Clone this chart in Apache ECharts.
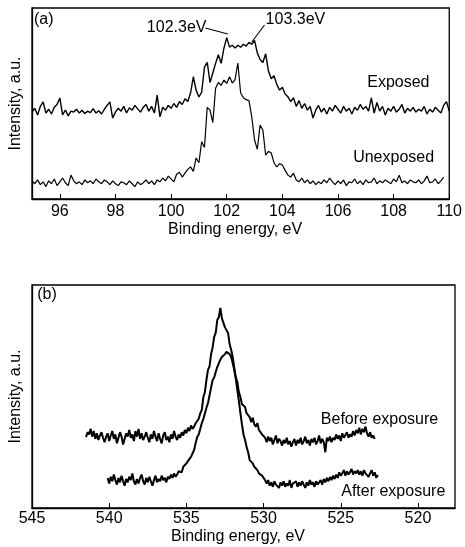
<!DOCTYPE html>
<html>
<head>
<meta charset="utf-8">
<script src="https://cdn.jsdelivr.net/npm/echarts@6.0.0/dist/echarts.min.js"></script>
<style>
  html, body { margin: 0; padding: 0; background: #fff; }
  #chart { width: 465px; height: 547px; }
</style>
</head>
<body>
<div id="chart"></div>
<script>
// ---- panel (a): Si 2p region, 0.1 eV steps from 95.0 eV ----
const startA = 95.0;
const stepA = 0.1;
const exposed = [
    45.5, 47.5, 44.0, 48.5, 50.8, 45.0, 47.0, 44.5, 48.0, 49.5,
    52.9, 44.0, 46.6, 43.5, 46.0, 45.5, 47.0, 45.0, 46.5, 44.8,
    46.0, 45.2, 47.3, 45.0, 46.2, 44.5, 47.0, 49.0, 50.8, 42.4,
    45.5, 47.5, 46.0, 48.5, 45.0, 47.8, 46.5, 49.0, 47.2, 45.5,
    48.0, 49.5, 46.0, 48.5, 45.0, 54.4, 43.0, 48.0, 46.5, 49.0,
    47.5, 50.0, 48.0, 51.0, 49.5, 52.5, 51.0, 55.5, 64.0, 57.0,
    53.4, 56.0, 69.0, 71.5, 61.0, 66.0, 71.0, 75.5, 71.0, 79.0,
    84.5, 79.5, 80.5, 79.0, 80.5, 79.5, 81.0, 80.0, 82.0, 81.0,
    83.0, 76.5, 73.0, 71.5, 76.0, 67.0, 63.0, 64.5, 60.0, 57.0,
    58.5, 55.0, 53.5, 51.0, 53.0, 48.5, 51.5, 47.5, 50.0, 46.5,
    48.5, 42.4, 46.5, 49.0, 45.5, 47.5, 44.5, 48.0, 46.0, 49.0,
    47.0, 45.0, 48.5, 46.0, 47.5, 44.5, 48.0, 46.5, 49.5, 47.0,
    48.5, 46.0, 52.9, 45.0, 50.5, 46.0, 48.5, 44.0, 47.5, 46.0,
    48.5, 45.5, 47.0, 49.5, 45.0, 47.5, 46.0, 48.0, 45.5, 47.0,
    46.0, 48.5, 44.5, 47.0, 45.5, 48.0, 46.5, 45.0, 49.0, 51.0,
    46.0
];
const unexposed = [
    9.5, 8.0, 10.0, 7.5, 9.0, 6.5, 9.5, 8.0, 10.5, 7.0,
    9.0, 11.0, 8.5, 7.0, 12.5, 9.5, 8.0, 9.0, 7.5, 10.0,
    8.5, 9.5, 8.0, 10.5, 9.0, 8.0, 10.0, 9.0, 7.5, 9.5,
    8.0, 7.0, 9.0, 8.5, 7.5, 9.5, 8.0, 6.5, 9.0, 7.5,
    8.5, 10.0, 8.0, 9.5, 7.5, 10.0, 9.0, 11.0, 9.5, 12.0,
    10.5, 9.0, 13.0, 14.0, 11.5, 13.5, 15.5, 16.8, 14.5, 21.5,
    19.0, 30.0, 27.0, 48.0, 46.5, 40.0, 58.0, 61.0, 59.5, 62.3,
    60.5, 64.0, 60.7, 62.5, 71.2, 55.5, 53.0, 52.0, 51.5, 43.0,
    30.9, 26.0, 38.7, 36.1, 23.0, 25.0, 24.1, 19.0, 16.8, 18.5,
    17.8, 15.0, 12.5, 11.5, 13.5, 10.0, 9.0, 11.0, 8.5, 10.0,
    8.0, 9.5, 7.5, 9.0, 8.0, 10.0, 8.5, 11.0, 9.0, 7.5,
    9.5, 8.0, 10.0, 7.0, 9.0, 8.5, 10.5, 8.0, 9.5, 7.5,
    10.0, 8.5, 9.0, 11.0, 8.0, 9.5, 8.5, 10.0, 9.0, 8.0,
    10.5, 9.0, 12.5, 8.5, 9.5, 8.0, 10.0, 9.0, 8.5, 10.0,
    8.0, 9.5, 12.0, 8.5, 9.0, 10.5, 8.0, 9.5, 11.5
];
const ticksA = [96, 98, 100, 102, 104, 106, 108, 110];

// ---- panel (b): O 1s region, -0.1 eV steps ----
const startBefore = 541.5;
const startAfter = 540.1;
const stepB = -0.1;
const before = [
    31.8, 34.0, 33.0, 35.5, 32.0, 34.5, 31.0, 33.5, 30.5, 32.5,
    34.0, 31.5, 29.5, 32.0, 33.5, 30.0, 32.5, 34.5, 31.0, 33.0,
    29.0, 31.5, 34.0, 32.0, 28.5, 31.0, 33.5, 32.0, 35.0, 31.5,
    33.0, 30.0, 34.5, 32.0, 35.5, 31.0, 33.5, 30.5, 32.0, 34.0,
    31.5, 29.5, 33.0, 31.0, 34.5, 32.0, 30.0, 33.5, 31.0, 29.0,
    32.5, 34.0, 30.5, 32.0, 29.5, 33.0, 31.0, 34.5, 32.0, 30.5,
    33.0, 31.5, 34.0, 32.5, 35.0, 33.5, 36.0, 34.5, 37.0, 35.5,
    36.5, 38.0, 37.5, 40.0, 42.5, 44.0, 49.8, 52.0, 57.5, 61.9,
    63.5, 69.0, 72.0, 76.7, 78.5, 84.3, 85.5, 89.7, 85.0, 84.3,
    81.0, 80.5, 78.5, 73.5, 71.0, 67.7, 63.0, 58.7, 56.5, 52.0,
    49.8, 46.5, 47.0, 45.3, 42.5, 43.0, 40.8, 38.5, 40.5, 37.5,
    36.5, 38.1, 35.0, 34.5, 33.0, 33.6,
    31.5, 29.5, 32.0, 30.0, 31.5, 28.5, 30.5, 32.5, 29.0, 31.0,
    30.0, 28.0, 30.5, 29.0, 31.5, 28.5, 30.0, 27.5, 29.5, 31.0,
    28.0, 30.5, 29.0, 31.5, 28.5, 30.0, 32.0, 29.0, 30.5, 28.0,
    31.0, 29.5, 31.5, 28.5, 30.0, 32.5, 29.0, 31.0, 29.5, 25.0,
    31.5, 30.0, 32.0, 29.5, 31.5, 30.5, 33.0, 31.0, 32.5, 30.0,
    33.5, 31.5, 32.0, 34.0, 31.5, 33.0, 32.0, 34.5, 32.5, 35.0,
    33.5, 36.0, 33.0, 35.5, 34.0, 36.5, 33.5, 32.0, 34.0, 31.5,
    32.5, 31.0
];
const after = [
    13.5, 11.0, 14.0, 12.0, 15.0, 12.5, 10.5, 13.5, 11.5, 14.5,
    12.0, 10.0, 13.0, 11.5, 14.0, 12.5, 15.5, 12.0, 10.5, 13.0,
    11.0, 13.5, 15.0, 12.0, 10.5, 13.5, 11.5, 14.0, 12.0, 10.0,
    12.5, 14.5, 11.5, 13.0, 12.0, 14.5, 12.5, 13.5, 11.5, 14.0,
    13.0, 15.0, 13.5, 15.5, 14.0,
    15.0, 16.5, 17.0, 16.0, 18.5, 19.0, 20.0, 19.5, 22.0, 22.9,
    24.5, 26.0, 29.0, 31.8, 33.0, 35.5, 38.1, 40.0, 42.5, 45.0,
    47.1, 50.5, 54.0, 57.4, 58.5, 61.0, 63.2, 64.0, 66.5, 67.7,
    68.5, 69.0, 70.0, 69.5, 69.0, 67.7, 65.0, 61.9, 58.0, 52.9,
    48.0, 42.6, 37.5, 33.0, 30.5, 27.5, 25.0, 21.5, 22.0, 20.0,
    18.5, 19.0, 17.0, 15.5, 16.0, 14.5, 13.5, 12.5,
    11.0, 12.5, 10.0, 11.5, 9.5, 12.0, 10.5, 11.0, 9.0, 11.5,
    10.0, 12.0, 9.5, 11.0, 10.0, 12.5, 9.0, 11.0, 10.5, 12.0,
    9.5, 11.5, 10.0, 12.0, 10.5, 9.0, 11.5, 10.0, 12.5, 10.5,
    11.5, 9.5, 12.0, 10.5, 11.5, 12.5, 10.5, 13.0, 11.5, 13.5,
    12.0, 13.9, 12.5, 14.5, 13.0, 15.0, 13.5, 16.0, 14.5, 15.5,
    17.0, 14.5, 16.5, 15.0, 16.1, 17.5, 15.0, 16.5, 15.5, 17.0,
    15.0, 16.5, 14.5, 17.0, 15.5, 16.1, 14.0, 15.5, 17.0, 14.5,
    16.0, 13.5, 14.8
];
const ticksB = [545, 540, 535, 530, 525, 520];

const font = "'Liberation Sans', Arial, Helvetica, sans-serif";
const ink = "#000";
const fs = 16;

const pairs = (vals, start, step) =>
    vals.map((v, i) => [Number((start + i * step).toFixed(2)), v]);

const xAxisFor = (grid, min, max, ticks, inverse, margin, nameGap) => ({
    type: "value",
    gridIndex: grid,
    min: min,
    max: max,
    inverse: inverse,
    name: "Binding energy, eV",
    nameLocation: "middle",
    nameGap: nameGap,
    nameTextStyle: { fontFamily: font, fontSize: fs, color: ink, padding: [0, 11, 0, 0] },
    axisLine: { show: true, onZero: false, lineStyle: { color: ink, width: 1.3 } },
    axisTick: { show: true, inside: true, length: 5, customValues: ticks, lineStyle: { color: ink, width: 1 } },
    axisLabel: { customValues: ticks, fontFamily: font, fontSize: fs, color: ink, margin: margin },
    splitLine: { show: false },
});

const yAxisFor = (grid) => ({
    type: "value",
    gridIndex: grid,
    min: 0,
    max: 100,
    name: "Intensity, a.u.",
    nameLocation: "middle",
    nameGap: 8,
    nameTextStyle: { fontFamily: font, fontSize: fs, color: ink },
    axisLine: { show: true, onZero: false, lineStyle: { color: ink, width: 1.3 } },
    axisTick: { show: false },
    axisLabel: { show: false },
    splitLine: { show: false },
});

const lineSeries = (name, data, xi, width) => ({
    name: name,
    type: "line",
    xAxisIndex: xi,
    yAxisIndex: xi,
    data: data,
    showSymbol: false,
    symbol: "none",
    lineStyle: { color: ink, width: width },
    silent: true,
});

const chart = echarts.init(document.getElementById("chart"));
chart.setOption({
    animation: false,
    backgroundColor: "#fff",
    grid: [
        { left: 31, top: 8, width: 421, height: 191, show: true, borderColor: ink, borderWidth: 1.3 },
        { left: 31, top: 285, width: 424, height: 223, show: true, borderColor: ink, borderWidth: 1.3 },
    ],
    xAxis: [
        xAxisFor(0, 95, 110, ticksA, false, 5, 23),
        xAxisFor(1, 517.6, 545, ticksB, true, 3, 21),
    ],
    yAxis: [yAxisFor(0), yAxisFor(1)],
    series: [
        lineSeries("Exposed", pairs(exposed, startA, stepA), 0, 1.4),
        lineSeries("Unexposed", pairs(unexposed, startA, stepA), 0, 1.2),
        lineSeries("Before exposure", pairs(before, startBefore, stepB), 1, 2),
        lineSeries("After exposure", pairs(after, startAfter, stepB), 1, 2),
    ],
});

// annotations placed through the axes' own scales
const px = (g, p) => chart.convertToPixel({ gridIndex: g }, p);
const label = (g, p, text) => {
    const [x, y] = px(g, p);
    return {
        type: "text", x: x, y: y, silent: true,
        style: { text: text, fill: ink, font: fs + "px " + font, align: "center", verticalAlign: "middle" },
    };
};
const leader = (g, a, b) => {
    const [x1, y1] = px(g, a);
    const [x2, y2] = px(g, b);
    return { type: "line", silent: true, shape: { x1, y1, x2, y2 }, style: { stroke: ink, lineWidth: 1.1 } };
};

chart.setOption({
    graphic: [
        label(0, [95.42, 93.7], "(a)"),
        label(0, [100.2, 89.5], "102.3eV"),
        leader(0, [101.23, 89.5], [102.04, 86.4]),
        label(0, [104.47, 93.7], "103.3eV"),
        leader(0, [103.36, 91.1], [102.9, 82.2]),
        label(0, [108.17, 60.7], "Exposed"),
        label(0, [108.0, 21.5], "Unexposed"),
        label(1, [544.03, 95.5], "(b)"),
        label(1, [522.49, 39.5], "Before exposure"),
        label(1, [521.6, 7.2], "After exposure"),
    ],
});
</script>
</body>
</html>
